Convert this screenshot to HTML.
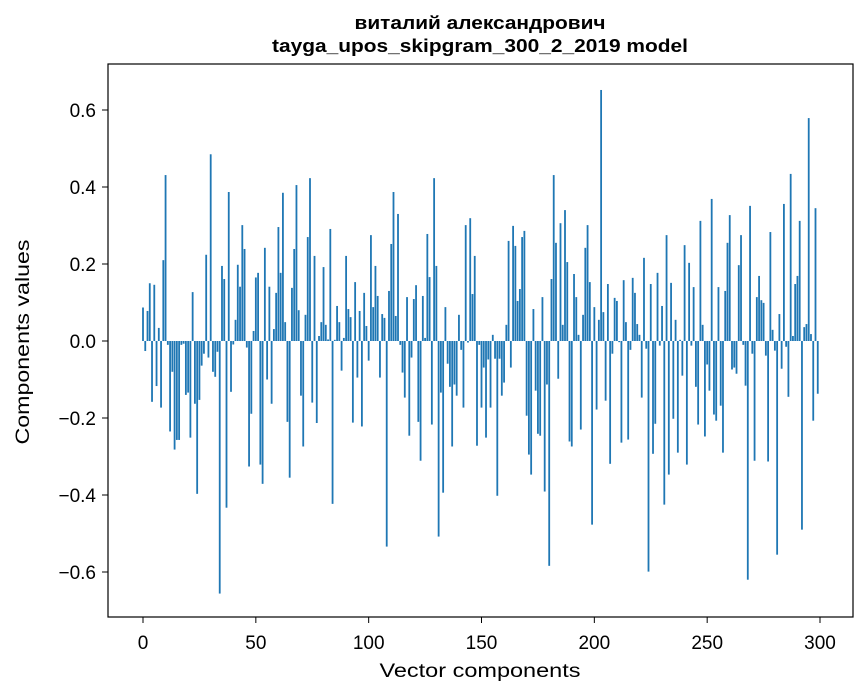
<!DOCTYPE html>
<html><head><meta charset="utf-8"><style>
html,body{margin:0;padding:0;background:#fff;}
svg{display:block;font-family:"Liberation Sans","DejaVu Sans",sans-serif;}
</style></head><body>
<svg id="chart" width="867" height="696" viewBox="0 0 867 696">
<text x="480" y="29" text-anchor="middle" font-size="18" font-weight="bold" textLength="251" lengthAdjust="spacingAndGlyphs">виталий александрович</text>
<text x="480" y="52" text-anchor="middle" font-size="18" font-weight="bold" textLength="416" lengthAdjust="spacingAndGlyphs">tayga_upos_skipgram_300_2_2019 model</text>
<g id="bars"></g>
<g id="xticks"></g>
<g id="yticks"></g>
<rect x="108" y="64" width="745" height="553" fill="none" stroke="#000" stroke-width="1.2"/>
<text x="480" y="677" text-anchor="middle" font-size="19" textLength="201" lengthAdjust="spacingAndGlyphs">Vector components</text>
<text transform="translate(29,342) rotate(-90)" text-anchor="middle" font-size="19" textLength="205" lengthAdjust="spacingAndGlyphs">Components values</text>
</svg>
<script>
const values = [0.087,-0.026,0.078,0.15,-0.158,0.146,-0.117,0.034,-0.173,0.21,
0.431,-0.01,-0.235,-0.08,-0.282,-0.257,-0.257,-0.01,-0.007,-0.14,
-0.134,-0.251,0.127,-0.163,-0.397,-0.153,-0.064,-0.033,0.224,-0.043,
0.485,-0.08,-0.093,-0.028,-0.656,0.195,0.161,-0.433,0.387,-0.132,
-0.009,0.055,0.198,0.141,0.301,0.239,-0.017,-0.326,-0.189,0.026,
0.165,0.177,-0.321,-0.371,0.242,-0.1,0.141,-0.163,0.031,0.125,
0.296,0.177,0.385,0.049,-0.21,-0.355,0.138,0.239,0.405,0.08,
-0.142,-0.274,0.068,0.27,0.423,-0.16,0.221,-0.213,0.013,0.049,
0.192,0.042,0.004,0.291,-0.423,0.003,0.091,0.049,-0.077,0.008,
0.221,0.083,0.062,-0.212,0.153,-0.095,0.078,-0.222,0.125,0.039,
-0.051,0.275,0.088,0.195,0.117,-0.095,0.07,0.06,-0.534,0.13,
0.252,0.387,0.065,0.33,-0.01,-0.082,-0.147,0.114,-0.246,-0.043,
0.109,0.145,-0.21,-0.311,0.117,0.008,0.278,0.166,-0.217,0.423,
0.195,-0.508,-0.134,-0.394,0.088,-0.059,-0.119,-0.274,-0.113,-0.142,
0.068,-0.023,-0.173,0.301,-0.004,0.319,0.122,0.221,-0.272,-0.01,
-0.173,-0.069,-0.251,-0.048,-0.173,0.016,-0.046,-0.402,-0.046,-0.142,
-0.108,0.042,0.26,-0.069,0.299,0.247,0.104,0.135,0.27,0.286,
-0.194,-0.295,-0.347,0.083,-0.129,-0.241,-0.246,0.114,-0.391,-0.113,
-0.584,0.161,0.431,0.255,-0.098,0.306,0.042,0.34,0.205,-0.261,
-0.274,0.174,0.114,0.016,-0.23,0.068,0.242,0.301,0.153,-0.477,
0.088,-0.178,0.055,0.652,0.075,-0.155,0.148,-0.319,-0.033,0.112,
0.104,-0.003,-0.264,0.158,0.049,-0.256,-0.023,0.164,0.125,0.044,
0.016,-0.147,0.216,-0.02,-0.599,0.148,-0.293,-0.215,0.177,-0.012,
0.091,-0.425,0.275,-0.347,0.151,-0.202,0.055,-0.29,0.003,-0.09,
0.249,-0.321,0.203,-0.012,0.14,-0.119,-0.217,0.312,0.042,-0.248,
-0.061,-0.129,0.369,-0.191,-0.207,0.14,-0.168,-0.29,0.13,0.255,
0.327,-0.074,-0.069,-0.085,0.197,0.275,-0.01,-0.116,-0.62,0.351,
-0.033,-0.311,0.114,0.169,0.106,0.099,-0.038,-0.313,0.283,0.029,
-0.025,-0.555,0.07,-0.072,0.356,-0.015,-0.145,0.434,0.013,0.148,
0.169,0.312,-0.49,0.036,0.044,0.579,0.018,-0.207,0.345,-0.137];
const xTickLabels = [0,50,100,150,200,250,300];
const yTickLabels = [-0.6,-0.4,-0.2,0.0,0.2,0.4,0.6];

const NS = "http://www.w3.org/2000/svg";
const X0 = 143, XS = 2.2567;
const Y0 = 341, YS = 385;
function xScale(i){ return X0 + XS*i; }
function yScale(v){ return Y0 - YS*v; }

const barsG = document.getElementById('bars');
const bw = 0.8*XS;
values.forEach((v,i)=>{
  const r = document.createElementNS(NS,'rect');
  const y1 = yScale(Math.max(v,0)), y2 = yScale(Math.min(v,0));
  r.setAttribute('x', xScale(i)-bw/2);
  r.setAttribute('y', y1);
  r.setAttribute('width', bw);
  r.setAttribute('height', Math.max(y2-y1,0.01));
  r.setAttribute('fill','#1f77b4');
  
  
  barsG.appendChild(r);
});

const xg = document.getElementById('xticks');
xTickLabels.forEach(t=>{
  const x = xScale(t);
  const l = document.createElementNS(NS,'line');
  l.setAttribute('x1',x); l.setAttribute('x2',x);
  l.setAttribute('y1',617); l.setAttribute('y2',623);
  l.setAttribute('stroke','#000');
  
  
  xg.appendChild(l);
  const tx = document.createElementNS(NS,'text');
  tx.setAttribute('x',x); tx.setAttribute('y',649);
  tx.setAttribute('text-anchor','middle');
  tx.setAttribute('font-size','19');
  tx.textContent = String(t);
  
  
  xg.appendChild(tx);
});

const yg = document.getElementById('yticks');
yTickLabels.forEach(t=>{
  const y = yScale(t);
  const l = document.createElementNS(NS,'line');
  l.setAttribute('x1',102); l.setAttribute('x2',108);
  l.setAttribute('y1',y); l.setAttribute('y2',y);
  l.setAttribute('stroke','#000');
  
  
  yg.appendChild(l);
  const tx = document.createElementNS(NS,'text');
  tx.setAttribute('x',96); tx.setAttribute('y',y+7);
  tx.setAttribute('text-anchor','end');
  tx.setAttribute('font-size','19');
  tx.textContent = (t<0?'\u2212':'') + Math.abs(t).toFixed(1);
  
  
  yg.appendChild(tx);
});
</script>
</body></html>
